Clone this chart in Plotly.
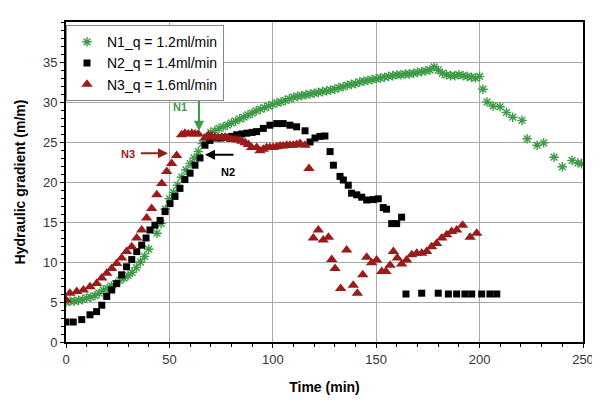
import plotly.graph_objects as go

# N1_q = 1.2 ml/min
n1_t = [0, 2, 4, 6, 8, 10, 12, 14, 16, 18, 20, 22, 24, 26, 28, 30, 32, 34, 36, 38, 40, 44, 46, 48,
        50, 52, 54, 56, 58, 60, 62, 64, 66, 68, 70, 72, 74, 76, 78, 80, 82, 84, 86, 88, 90, 92, 94,
        96, 98, 100, 102, 104, 106, 108, 110, 112, 114, 116, 118, 120, 122, 124, 126, 128, 130, 132,
        134, 136, 138, 140, 142, 144, 146, 148, 150, 152, 154, 156, 158, 160, 162, 164, 166, 168,
        170, 172, 174, 176, 178, 180, 182, 184, 186, 188, 190, 192, 194, 196, 198, 200, 201.6,
        203.6, 206.5, 209.9, 213, 216, 220.5, 223, 227.8, 231, 236, 240, 244.7, 247.6, 249.3]
n1_y = [5.0, 5.1, 5.1, 5.2, 5.3, 5.5, 5.6, 5.8, 6.1, 6.5, 6.7, 7.0, 7.3, 7.7, 8.0, 8.3, 8.7, 9.3,
        10.0, 10.7, 11.6, 13.6, 14.8, 16.6, 17.9, 18.7, 19.6, 20.6, 21.5, 22.3, 23.0, 23.8, 24.8,
        25.6, 26.2, 26.4, 26.7, 26.9, 27.1, 27.4, 27.6, 27.9, 28.1, 28.4, 28.6, 28.9, 29.1, 29.3,
        29.5, 29.7, 29.9, 30.0, 30.2, 30.4, 30.6, 30.7, 30.8, 30.9, 31.0, 31.1, 31.2, 31.3, 31.4,
        31.5, 31.6, 31.8, 31.9, 32.1, 32.2, 32.3, 32.5, 32.6, 32.7, 32.8, 32.9, 33.0, 33.1, 33.2,
        33.3, 33.4, 33.4, 33.5, 33.5, 33.6, 33.7, 33.8, 33.9, 34.0, 34.4, 34.0, 33.6, 33.4, 33.3,
        33.3, 33.4, 33.3, 33.2, 33.1, 33.0, 33.2, 31.6, 30.0, 29.5, 29.4, 28.7, 28.1, 27.7, 25.4,
        24.6, 24.9, 23.1, 21.9, 22.7, 22.4, 22.3]

# N2_q = 1.4 ml/min
n2_t = [0, 3.5, 7.6, 11.6, 14.8, 17.3, 19.7, 22.1, 24.5, 26.9, 29.3, 31.8, 34.2, 36.6, 38.7, 40.6,
        43, 45.5, 47.9, 50.3, 52.7, 55.1, 57.5, 60, 62.4, 64.8, 67.2, 69.6, 72.9, 75, 77.7, 80,
        82.5, 85, 87.4, 90, 92.2, 95.4, 98.6, 101.9, 105, 108.3, 111.5, 115.6, 118, 120.4, 122.8,
        125.2, 127.7, 129.3, 132.5, 134.1, 136.5, 138.1, 140.6, 143, 145.4, 148.6, 151, 153.4,
        155, 157.5, 159.9, 162.3, 164.4, 172, 180, 184.9, 188.9, 192.9, 196.2, 201, 205, 208.3]
n2_y = [2.5, 2.5, 2.8, 3.4, 3.8, 4.6, 5.7, 6.5, 7.3, 8.4, 9.4, 10.3, 11.3, 12.1, 13.0, 14.0, 14.6,
        15.2, 16.3, 17.3, 18.2, 19.2, 20.3, 21.1, 22.1, 23.0, 24.6, 25.2, 25.5, 25.5, 25.6, 25.7,
        25.9, 26.0, 26.1, 26.2, 26.3, 26.7, 27.1, 27.3, 27.3, 27.1, 26.9, 26.4, 25.0, 25.5, 25.7,
        25.75, 23.8, 22.1, 20.7, 20.25, 19.6, 18.6, 18.4, 18.1, 17.75, 17.8, 17.9, 16.8, 16.6,
        14.8, 14.8, 15.6, 6.0, 6.1, 6.1, 6.0, 6.0, 6.0, 6.0, 6.0, 6.0, 6.0]

# N3_q = 1.6 ml/min
n3_t = [0, 1.9, 5.2, 8.4, 11.6, 14.8, 17.3, 19.7, 22.1, 24.5, 26.9, 29.3, 31.8, 34.2, 36.6, 39,
        41.4, 43.9, 46.3, 48.7, 51.1, 53.5, 55.9, 57.5, 59.1, 60.8, 62.4, 64, 67.2, 68.8, 70.4,
        72, 73.7, 75.3, 76.9, 78.5, 80.1, 81.7, 83.3, 85, 86.6, 88.2, 89.8, 92.2, 93.8, 95.4, 97,
        98.6, 100.2, 101.9, 103.5, 105, 106.7, 108.3, 109.9, 111.5, 113.2, 115.6, 117.5, 119.6,
        122, 124.4, 126.9, 128.5, 130.1, 132.8, 135.7, 138.9, 140.9, 143.5, 145.4, 147.8, 150.2,
        152.7, 154.7, 156.7, 158.3, 160.2, 162.3, 164.7, 167.2, 169.6, 172, 174.4, 176.8, 179.2,
        181.7, 184.1, 186.5, 188.9, 191.8, 195.4, 198.6]
n3_y = [5.25, 6.1, 6.3, 6.5, 6.9, 7.3, 8.0, 8.6, 9.2, 9.8, 10.5, 11.3, 11.9, 13.0, 14.0, 15.5,
        16.7, 18.4, 19.8, 21.3, 22.3, 23.3, 25.9, 26.1, 26.0, 26.1, 26.0, 26.0, 25.5, 25.8, 25.75,
        25.6, 25.5, 25.6, 25.6, 25.5, 25.3, 25.3, 25.25, 25.1, 24.9, 24.7, 24.3, 24.3, 23.9, 24.1,
        24.3, 24.3, 24.3, 24.4, 24.5, 24.5, 24.6, 24.6, 24.6, 24.7, 24.8, 24.6, 21.7, 13.0, 14.0,
        12.75, 13.1, 10.3, 9.2, 6.7, 11.5, 7.1, 6.1, 8.4, 10.6, 9.9, 10.25, 8.8, 8.8, 9.6, 11.3,
        10.5, 9.75, 10.25, 10.9, 11.1, 11.1, 11.3, 11.9, 12.3, 13.0, 13.4, 13.8, 14.0, 14.6, 13.1,
        13.6]

x_ticks = [0, 50, 100, 150, 200, 250]
y_ticks = [0, 5, 10, 15, 20, 25, 30, 35]

green = "#3d9a46"
red = "#9b1b1b"
FONT = "Liberation Sans, Arial"

fig = go.Figure()
fig.add_trace(go.Scatter(x=n1_t, y=n1_y, mode="markers", name="N1_q = 1.2ml/min",
                         marker=dict(symbol="asterisk", size=8, line=dict(color=green, width=1.4),
                                     color=green)))
fig.add_trace(go.Scatter(x=n2_t, y=n2_y, mode="markers", name="N2_q = 1.4ml/min",
                         marker=dict(symbol="square", size=7, color="black")))
fig.add_trace(go.Scatter(x=n3_t, y=n3_y, mode="markers", name="N3_q = 1.6ml/min",
                         marker=dict(symbol="triangle-up", size=10, color=red)))

# annotations with arrows
fig.add_annotation(x=64.3, y=26.4, ax=64.3, ay=30.3, xref="x", yref="y", axref="x", ayref="y",
                   showarrow=True, arrowhead=2, arrowsize=1, arrowwidth=2, arrowcolor=green, text="")
fig.add_annotation(x=55, y=29.4, text="<b>N1</b>", showarrow=False,
                   font=dict(color=green, size=11, family=FONT))
fig.add_annotation(x=49.3, y=23.6, ax=35.5, ay=23.6, xref="x", yref="y", axref="x", ayref="y",
                   showarrow=True, arrowhead=2, arrowsize=1, arrowwidth=2, arrowcolor=red, text="")
fig.add_annotation(x=30, y=23.5, text="<b>N3</b>", showarrow=False,
                   font=dict(color=red, size=11, family=FONT))
fig.add_annotation(x=67.2, y=23.4, ax=81.7, ay=23.4, xref="x", yref="y", axref="x", ayref="y",
                   showarrow=True, arrowhead=2, arrowsize=1, arrowwidth=2, arrowcolor="black", text="")
fig.add_annotation(x=78.3, y=21.25, text="<b>N2</b>", showarrow=False,
                   font=dict(color="black", size=11, family=FONT))

axis_common = dict(showline=True, linecolor="black", linewidth=2, mirror=True,
                   showgrid=True, gridcolor="#a8a8a8", gridwidth=1, zeroline=False,
                   ticks="outside", ticklen=4, tickcolor="black", automargin=False,
                   tickfont=dict(size=13, color="#333", family=FONT))

fig.update_xaxes(range=[0, 250], tickvals=x_ticks,
                 minor=dict(dtick=10, ticks="outside", ticklen=3, tickcolor="black", showgrid=False),
                 title=dict(text="<b>Time (min)</b>", standoff=17,
                            font=dict(size=14, color="black", family=FONT)),
                 **axis_common)
fig.update_yaxes(range=[0, 40], tickvals=y_ticks,
                 minor=dict(dtick=1, ticks="outside", ticklen=3, tickcolor="black", showgrid=False),
                 title=dict(text="<b>Hydraulic gradient (m/m)</b>", standoff=14,
                            font=dict(size=14, color="black", family=FONT)),
                 **axis_common)

# page body adds an 8px offset; figure is sized so the plot lands where it should in a 600x404 view
fig.update_layout(width=592, height=396, margin=dict(l=58, r=17, t=14, b=62),
                  plot_bgcolor="white", paper_bgcolor="white",
                  font=dict(family=FONT),
                  legend=dict(x=0.0, y=0.99, xanchor="left", yanchor="top",
                              bgcolor="white", bordercolor="#888", borderwidth=1,
                              font=dict(size=14, color="black"), tracegroupgap=0,
                              itemwidth=30))

fig.write_html("out.html")
